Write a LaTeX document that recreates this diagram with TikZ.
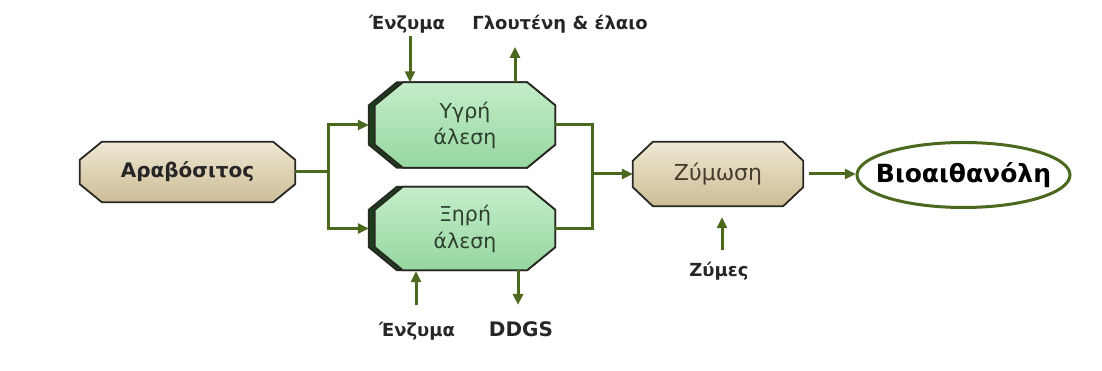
\documentclass[tikz,border=0pt]{standalone}
\usepackage{fontspec}
\setmainfont{DejaVu Sans}
\usetikzlibrary{arrows.meta,calc,backgrounds}

\definecolor{lineg}{RGB}{74,104,30}
\definecolor{outl}{RGB}{40,40,35}
\definecolor{beigeT}{RGB}{238,231,210}
\definecolor{beigeB}{RGB}{204,189,150}
\definecolor{greenT}{RGB}{196,238,200}
\definecolor{greenB}{RGB}{150,214,160}
\definecolor{greenD}{RGB}{28,62,28}
\definecolor{txtg}{RGB}{45,62,45}
\definecolor{txtb}{RGB}{70,60,45}

% octagon round a node: node, chamfer x, chamfer y, extra left offset
\newcommand\octpath[4]{($(#1.north west)+(#2-#4,0)$) -- ($(#1.north east)+(-#2,0)$)
  -- ($(#1.north east)+(0,-#3)$) -- ($(#1.south east)+(0,#3)$)
  -- ($(#1.south east)+(-#2,0)$) -- ($(#1.south west)+(#2-#4,0)$)
  -- ($(#1.south west)+(-#4,#3)$) -- ($(#1.north west)+(-#4,-#3)$) -- cycle}

\tikzset{
  conn/.style={draw=lineg, line width=3pt},
  arr/.style={conn, -{Triangle[length=11pt,width=10pt]}},
  lab/.style={font=\bfseries\fontsize{18}{22}\selectfont, text=black!85, inner sep=0pt, anchor=base},
  boxnode/.style={inner sep=0pt, align=center},
  beigefill/.style={top color=beigeT, bottom color=beigeB, draw=outl, line width=1.8pt, line join=miter},
  greenfill/.style={top color=greenT, bottom color=greenB, draw=outl, line width=1.8pt, line join=miter},
  bandfill/.style={fill=greenD, draw=outl, line width=1.8pt, line join=miter},
}

\begin{document}
\begin{tikzpicture}[x=1pt,y=1pt]
\useasboundingbox (0,0) rectangle (1102,371);

% process steps
\node[boxnode, minimum width=215pt, minimum height=60pt,
      font=\bfseries\fontsize{20}{24}\selectfont, text=black!85] (arav) at (187.5,199) {Αραβόσιτος};
\node[boxnode, minimum width=180pt, minimum height=85pt,
      font=\fontsize{20.5}{26}\selectfont, text=txtg] (ygri) at (465,246) {Υγρή\\άλεση};
\node[boxnode, minimum width=180pt, minimum height=83pt,
      font=\fontsize{20.5}{27}\selectfont, text=txtg] (xiri) at (465,142.5) {Ξηρή\\άλεση};
\node[boxnode, minimum width=170pt, minimum height=64pt,
      font=\fontsize{22}{26}\selectfont, text=txtb] (zym) at (718,197) {Ζύμωση};
\node[boxnode, minimum width=213pt, minimum height=65pt,
      font=\bfseries\fontsize{25}{29}\selectfont, text=black] (bio) at (963.5,196) {Βιοαιθανόλη};

\begin{scope}[on background layer]
  \path[beigefill] \octpath{arav}{22}{18}{0};
  \path[beigefill] \octpath{zym}{20}{19}{0};
  \path[bandfill] \octpath{ygri}{28}{23}{6};
  \path[greenfill] \octpath{ygri}{28}{23}{0};
  \path[bandfill] \octpath{xiri}{28}{23}{6};
  \path[greenfill] \octpath{xiri}{28}{23}{0};
  \draw[lineg, line width=3pt, fill=white] (bio.center) ellipse [x radius=106.5pt, y radius=32.5pt];
\end{scope}

% labels
\node[lab] (enz1) at (407,341) {Ένζυμα};
\node[lab] (glu) at (560,341) {Γλουτένη \& έλαιο};
\node[lab] (enz2) at (417,34) {Ένζυμα};
\node[lab, font=\bfseries\fontsize{20}{24}\selectfont] (ddgs) at (521,34) {DDGS};
\node[lab] (zymes) at (719,94) {Ζύμες};

% junction points
\coordinate (j1) at (328,199);
\coordinate (j2) at (592,197);

% connectors
\draw[conn] (arav.east) -- (j1);
\draw[arr, shorten >=6pt] (j1) |- (ygri.west);
\draw[arr, shorten >=6pt] (j1) |- (xiri.west);
\draw[conn] (ygri.east) -| (j2) |- (xiri.east);
\draw[arr] (j2) -- (zym.west);
\draw[arr, shorten <=6pt, shorten >=1pt] (zym.east) -- (zym.east -| bio.west);

\draw[arr, shorten <=2pt] ([xshift=3pt]enz1.south) -- ([xshift=3pt]enz1.south |- ygri.north);
\draw[arr, shorten >=13pt] ([xshift=50pt]ygri.north) -- ([xshift=50pt]ygri.north |- glu.south);
\draw[arr, shorten <=17pt, shorten >=1pt] ([xshift=-1pt]enz2.north) -- ([xshift=-1pt]enz2.north |- xiri.south);
\draw[arr, shorten >=17pt] ([xshift=-3pt]ddgs.north |- xiri.south) -- ([xshift=-3pt]ddgs.north);
\draw[arr, shorten <=12pt, shorten >=11pt] ([xshift=3pt]zymes.north) -- ([xshift=3pt]zymes.north |- zym.south);
\end{tikzpicture}
\end{document}
